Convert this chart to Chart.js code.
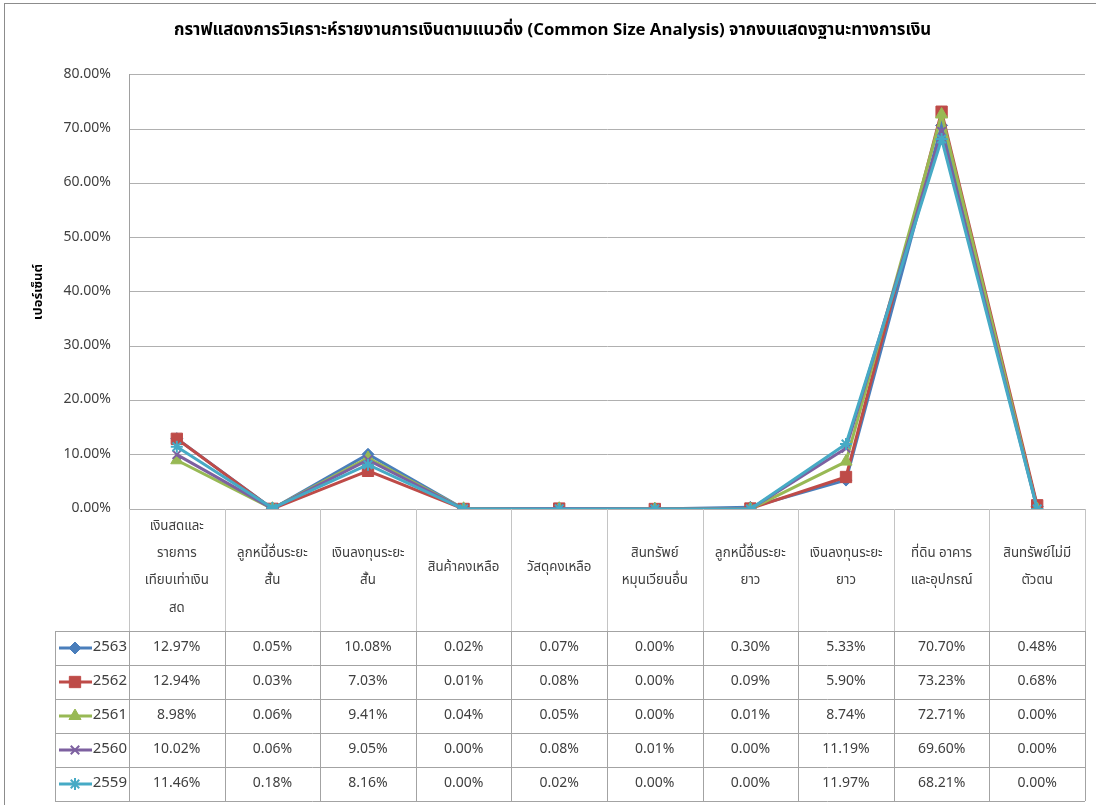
<!DOCTYPE html>
<html>
<head>
<meta charset="utf-8">
<script src="https://cdn.jsdelivr.net/npm/chart.js@4.4.1/dist/chart.umd.min.js"></script>
<style>
html,body{margin:0;padding:0;background:#fff;}
#wrap{width:1096px;height:805px;position:relative;}
canvas{display:block;}
</style>
</head>
<body>
<div id="wrap"><canvas id="c" width="1096" height="805"></canvas></div>
<script>
// ---------- data ----------
const chartTitle = 'กราฟแสดงการวิเคราะห์รายงานการเงินตามแนวดิ่ง (Common Size Analysis) จากงบแสดงฐานะทางการเงิน';
const yAxisTitle = 'เปอร์เซ็นต์';
const categories = [
  ['เงินสดและ', 'รายการ', 'เทียบเท่าเงิน', 'สด'],
  ['ลูกหนี้อื่นระยะ', 'สั้น'],
  ['เงินลงทุนระยะ', 'สั้น'],
  'สินค้าคงเหลือ',
  'วัสดุคงเหลือ',
  ['สินทรัพย์', 'หมุนเวียนอื่น'],
  ['ลูกหนี้อื่นระยะ', 'ยาว'],
  ['เงินลงทุนระยะ', 'ยาว'],
  ['ที่ดิน อาคาร', 'และอุปกรณ์'],
  ['สินทรัพย์ไม่มี', 'ตัวตน']
];
const seriesNames = ['2563', '2562', '2561', '2560', '2559'];
const values2563 = [12.97, 0.05, 10.08, 0.02, 0.07, 0.00, 0.30, 5.33, 70.70, 0.48];
const values2562 = [12.94, 0.03, 7.03, 0.01, 0.08, 0.00, 0.09, 5.90, 73.23, 0.68];
const values2561 = [8.98, 0.06, 9.41, 0.04, 0.05, 0.00, 0.01, 8.74, 72.71, 0.00];
const values2560 = [10.02, 0.06, 9.05, 0.00, 0.08, 0.01, 0.00, 11.19, 69.60, 0.00];
const values2559 = [11.46, 0.18, 8.16, 0.00, 0.02, 0.00, 0.00, 11.97, 68.21, 0.00];
const yTickValues = [0, 10, 20, 30, 40, 50, 60, 70, 80];

// ---------- styles ----------
const seriesColors = ['#4A7EBB', '#BE4B48', '#98B954', '#7D60A0', '#46AAC5'];
const seriesMarkers = ['rectRot', 'rect', 'triangle', 'crossRot', 'star'];
const seriesMarkerRadius = [6, 8, 7, 6, 6];
const FONT = "Tahoma, 'Noto Sans Thai', 'Noto Sans', 'DejaVu Sans', sans-serif";
const TEXT_COLOR = '#404040';
const HEADER_H = 122;
const ROW_H = 34;
const LEGEND_LEFT = 55;

const allValues = [values2563, values2562, values2561, values2560, values2559];
const fmt = v => v.toFixed(2) + '%';

const datasets = seriesNames.map((name, i) => ({
  label: name,
  data: allValues[i],
  borderColor: seriesColors[i],
  backgroundColor: seriesColors[i],
  borderWidth: 3,
  pointStyle: seriesMarkers[i],
  pointRadius: seriesMarkerRadius[i],
  pointBorderWidth: (seriesMarkers[i] === 'crossRot' || seriesMarkers[i] === 'star') ? 2 : 1,
  pointBorderColor: seriesColors[i],
  pointBackgroundColor: seriesColors[i],
  tension: 0,
  order: seriesNames.length - i
}));

const frame = {
  id: 'frame',
  beforeDraw(chart) {
    const ctx = chart.ctx;
    ctx.save();
    ctx.fillStyle = '#fff';
    ctx.fillRect(0, 0, chart.width, chart.height);
    ctx.strokeStyle = '#8c8c8c';
    ctx.lineWidth = 1;
    ctx.strokeRect(4.5, 3.5, chart.width + 10, chart.height + 10);
    ctx.restore();
  }
};

const dataTable = {
  id: 'dataTable',
  afterDraw(chart) {
    const ctx = chart.ctx;
    const a = chart.chartArea;
    const x = chart.scales.x;
    const n = categories.length;
    const w = (a.right - a.left) / n;
    const bounds = [];
    for (let i = 0; i <= n; i++) bounds.push(x.getPixelForValue(0) - w / 2 + i * w);
    const hb = a.bottom + HEADER_H;
    const rows = seriesNames.length;
    const tb = hb + rows * ROW_H;
    ctx.save();
    ctx.lineWidth = 1;
    // header vertical separators
    ctx.strokeStyle = '#c4c4c4';
    bounds.forEach(b => {
      const px = Math.round(b) + 0.5;
      ctx.beginPath(); ctx.moveTo(px, a.bottom); ctx.lineTo(px, hb); ctx.stroke();
    });
    // row lines
    ctx.strokeStyle = '#a3a3a3';
    for (let r = 0; r <= rows; r++) {
      const py = Math.round(hb + r * ROW_H) + 0.5;
      ctx.beginPath(); ctx.moveTo(LEGEND_LEFT, py); ctx.lineTo(bounds[n], py); ctx.stroke();
    }
    [LEGEND_LEFT].concat(bounds).forEach(b => {
      const px = Math.round(b) + 0.5;
      ctx.beginPath(); ctx.moveTo(px, hb); ctx.lineTo(px, tb); ctx.stroke();
    });
    // values
    ctx.font = '14px ' + FONT;
    ctx.fillStyle = TEXT_COLOR;
    ctx.textAlign = 'center';
    ctx.textBaseline = 'middle';
    for (let r = 0; r < rows; r++) {
      const cy = hb + r * ROW_H + ROW_H / 2;
      const vals = chart.data.datasets[r].data;
      vals.forEach((v, i) => ctx.fillText(fmt(v), x.getPixelForValue(i), cy));
    }
    // legend keys
    for (let r = 0; r < rows; r++) {
      const ds = chart.data.datasets[r];
      const cy = hb + r * ROW_H + ROW_H / 2;
      ctx.strokeStyle = ds.borderColor;
      ctx.fillStyle = ds.backgroundColor;
      ctx.lineWidth = 3;
      ctx.beginPath(); ctx.moveTo(LEGEND_LEFT + 4, cy); ctx.lineTo(LEGEND_LEFT + 37, cy); ctx.stroke();
      ctx.lineWidth = ds.pointBorderWidth;
      Chart.helpers.drawPoint(ctx, {pointStyle: ds.pointStyle, radius: ds.pointRadius, rotation: 0, borderWidth: ds.pointBorderWidth}, LEGEND_LEFT + 20, cy);
      ctx.fillStyle = TEXT_COLOR;
      ctx.textAlign = 'right';
      ctx.font = '15px ' + FONT;
      ctx.fillText(ds.label, bounds[0] - 2, cy);
    }
    ctx.restore();
  }
};

new Chart(document.getElementById('c'), {
  type: 'line',
  data: { labels: categories, datasets },
  plugins: [frame, dataTable],
  options: {
    responsive: false,
    animation: false,
    devicePixelRatio: 1,
    layout: { padding: { left: 20, right: 11, top: 0, bottom: 4 } },
    plugins: {
      legend: { display: false },
      tooltip: { enabled: false },
      title: {
        display: true,
        text: chartTitle,
        color: '#000',
        font: { family: FONT, size: 16.8, weight: 'bold', lineHeight: 1.2 },
        padding: { top: 22, bottom: 32.8 }
      }
    },
    scales: {
      x: {
        offset: true,
        grid: { display: false, drawTicks: false },
        border: { display: false },
        ticks: {
          autoSkip: false, maxRotation: 0, minRotation: 0,
          crossAlign: 'center',
          padding: 18,
          color: TEXT_COLOR,
          font: { family: FONT, size: 13.3, lineHeight: 2.06 }
        },
        afterFit(s) { s.height = 292; }
      },
      y: {
        min: 0, max: 80,
        afterBuildTicks(s) { s.ticks = yTickValues.map(v => ({ value: v })); },
        grid: { color: '#b0b0b0', drawTicks: false },
        border: { display: true, color: '#a0a0a0' },
        ticks: {
          padding: 18,
          color: TEXT_COLOR,
          font: { family: FONT, size: 14 },
          callback: v => fmt(v)
        },
        title: {
          display: true,
          text: yAxisTitle,
          color: '#000',
          font: { family: FONT, size: 13, weight: 'bold', lineHeight: 1.2 },
          padding: { top: 12, bottom: 0 }
        },
        afterFit(s) { s.width = 109; }
      }
    }
  }
});
</script>
</body>
</html>
